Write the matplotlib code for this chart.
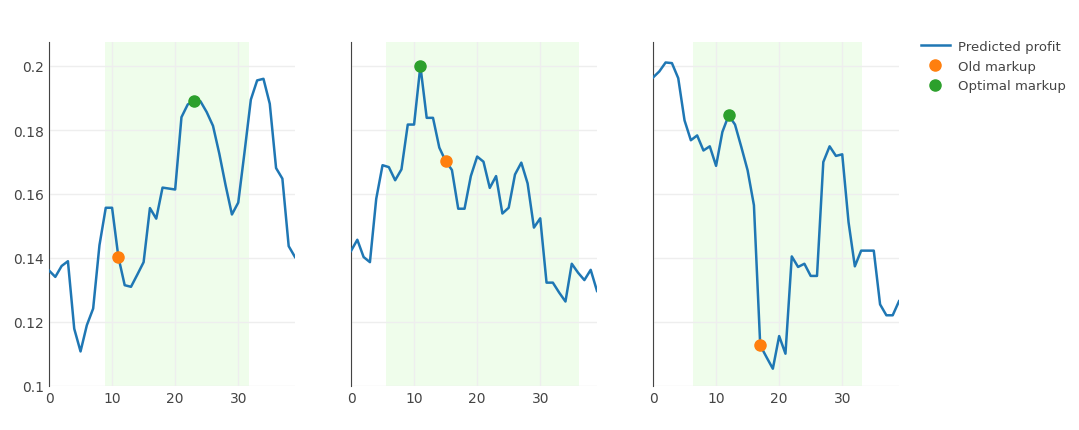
import numpy as np
import matplotlib
matplotlib.use("Agg")
import matplotlib.pyplot as plt

x = np.arange(40)

profit_a = [0.1361, 0.1341, 0.1375, 0.1390, 0.1179, 0.1108, 0.1190, 0.1242, 0.1440, 0.1557,
            0.1557, 0.1403, 0.1315, 0.1310, 0.1348, 0.1387, 0.1556, 0.1523, 0.1620, 0.1617,
            0.1614, 0.1840, 0.1880, 0.1890, 0.1890, 0.1856, 0.1813, 0.1726, 0.1627, 0.1536,
            0.1573, 0.1731, 0.1895, 0.1955, 0.1960, 0.1882, 0.1681, 0.1648, 0.1437, 0.1403]
profit_b = [0.1422, 0.1457, 0.1403, 0.1387, 0.1585, 0.1690, 0.1684, 0.1643, 0.1677, 0.1817,
            0.1817, 0.2000, 0.1838, 0.1838, 0.1745, 0.1703, 0.1675, 0.1554, 0.1554, 0.1656,
            0.1717, 0.1701, 0.1619, 0.1656, 0.1539, 0.1557, 0.1661, 0.1698, 0.1633, 0.1495,
            0.1524, 0.1323, 0.1323, 0.1292, 0.1264, 0.1382, 0.1354, 0.1331, 0.1363, 0.1297]
profit_c = [0.1964, 0.1983, 0.2011, 0.2009, 0.1962, 0.1830, 0.1768, 0.1783, 0.1736, 0.1749,
            0.1688, 0.1794, 0.1846, 0.1817, 0.1747, 0.1674, 0.1565, 0.1127, 0.1090, 0.1054,
            0.1156, 0.1101, 0.1405, 0.1372, 0.1382, 0.1344, 0.1344, 0.1700, 0.1749, 0.1719,
            0.1724, 0.1512, 0.1374, 0.1423, 0.1423, 0.1423, 0.1255, 0.1221, 0.1221, 0.1265]

series = [profit_a, profit_b, profit_c]
old_markup = [11, 15, 17]
optimal_markup = [23, 11, 12]
ranges = [(8.8, 31.7), (5.6, 36.2), (6.35, 33.2)]

W, H = 1079, 431
fig = plt.figure(figsize=(W / 100, H / 100), dpi=100)
lefts = [49, 351, 653]
pw, top, bottom = 246, 43, 387

for i, ys in enumerate(series):
    ax = fig.add_axes([lefts[i] / W, 1 - bottom / H, pw / W, (bottom - top) / H])
    ax.axvspan(*ranges[i], color="#effdeb", zorder=0, lw=0)
    ax.plot(x, ys, color="#1f77b4", lw=1.8, label="Predicted profit", zorder=3)
    ax.plot(old_markup[i], ys[old_markup[i]], "o", color="#ff7f0e", ms=8,
            label="Old markup", zorder=4)
    ax.plot(optimal_markup[i], ys[optimal_markup[i]], "o", color="#2ca02c", ms=8,
            label="Optimal markup", zorder=4)
    ax.set_xlim(0, 39)
    ax.set_ylim(0.1, 0.2075)
    ax.set_xticks([0, 10, 20, 30])
    ax.set_yticks([0.1, 0.12, 0.14, 0.16, 0.18, 0.2])
    ax.grid(True, color="#eeeeee", lw=1, zorder=1)
    ax.set_axisbelow(True)
    for s in ["top", "right", "bottom"]:
        ax.spines[s].set_visible(False)
    ax.spines["left"].set_color("#444444")
    ax.tick_params(length=0, colors="#444444", labelsize=10)
    if i == 0:
        ax.set_yticklabels(["0.1", "0.12", "0.14", "0.16", "0.18", "0.2"])
    else:
        ax.set_yticklabels([])
    if i == 2:
        ax.legend(loc="upper left", bbox_to_anchor=(1.04, 1.04), frameon=False,
                  fontsize=9.5, labelcolor="#444444", handlelength=2.2,
                  labelspacing=0.5, handletextpad=0.6)

fig.savefig("out.png", dpi=100)
